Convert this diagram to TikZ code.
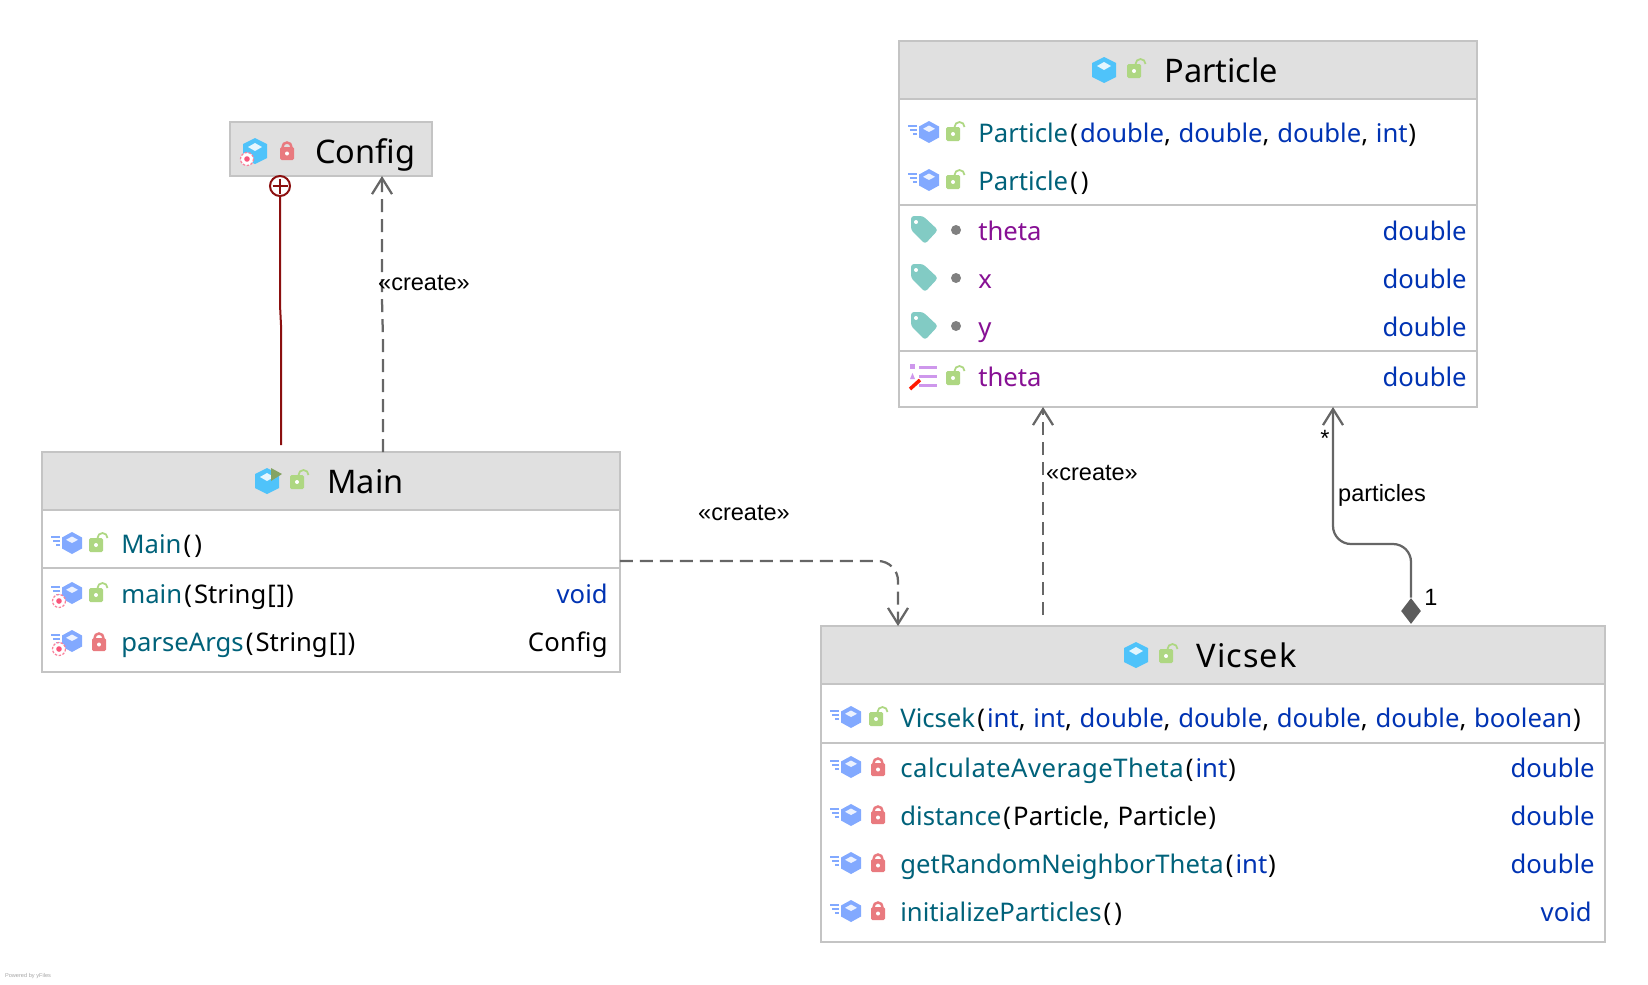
\documentclass[tikz,border=0pt]{standalone}
\usepackage{fontspec}
\setmainfont{Noto Sans}
\newfontfamily\labelfont{Liberation Sans}
\usetikzlibrary{arrows.meta,shapes.geometric}
\definecolor{boxline}{HTML}{C4C4C4}
\definecolor{headfill}{HTML}{E0E0E0}
\definecolor{linkgray}{HTML}{666666}
\definecolor{innerred}{HTML}{8B0F0F}
\definecolor{classblue}{HTML}{4FC3FA}
\definecolor{methodblue}{HTML}{82A9FF}
\definecolor{openlockc}{HTML}{AED782}
\definecolor{closedlockc}{HTML}{E97A7F}
\definecolor{tagc}{HTML}{82CBC4}
\definecolor{lilac}{HTML}{CE97EC}
\definecolor{staticc}{HTML}{F9557A}
\definecolor{methodc}{HTML}{00627A}
\definecolor{keywordc}{HTML}{0033B3}
\definecolor{fieldc}{HTML}{871094}
\newcommand{\mn}[1]{\textcolor{methodc}{#1}}
\newcommand{\kw}[1]{\textcolor{keywordc}{#1}}
\newcommand{\fd}[1]{\textcolor{fieldc}{#1}}
\newcommand{\lp}{\kern1.2pt(\kern1.2pt}
\newcommand{\rp}{\kern0.5pt)\kern0.5pt}
\newcommand{\cm}{,\kern0.6pt}
\newcommand{\strs}{String\kern0.6pt[\kern0.6pt]}
\tikzset{
  boxbody/.style={draw=boxline, line width=0.04cm, fill=white, inner sep=0pt, outer sep=0pt},
  boxhead/.style={draw=boxline, line width=0.04cm, fill=headfill, inner sep=0pt, outer sep=0pt},
  sepline/.style={draw=boxline, line width=0.04cm},
  titlelabel/.style={anchor=base west, inner sep=0pt, font=\fontsize{18.5}{22}\selectfont},
  memberlabel/.style={anchor=base west, inner sep=0pt, font=\fontsize{14.6}{18}\selectfont},
  typelabel/.style={anchor=base east, inner sep=0pt, font=\fontsize{14.6}{18}\selectfont},
  linklabel/.style={inner sep=0pt, font=\labelfont\fontsize{13.4}{16}\selectfont},
  openhead/.style={-{Straight Barb[length=0.32cm,width=0.4cm]}},
  createlink/.style={draw=linkgray, line width=0.045cm, dash pattern=on 0.26cm off 0.14cm, openhead},
  ownlink/.style={draw=linkgray, line width=0.045cm, rounded corners=0.36cm, openhead},
  innerlink/.style={draw=innerred, line width=0.04cm},
  pics/classcube/.style={code={
    \fill[classblue] (0,-13) -- (12,-7) -- (12,7) -- (0,13) -- (-12,7) -- (-12,-7) -- cycle;
    \fill[white!85!classblue] (0,-8) -- (7,-4) -- (0,0) -- (-7,-4) -- cycle;
  }},
  pics/methodcube/.style={code={
    \fill[methodblue] (0,-11) -- (10,-5.5) -- (10,5.5) -- (0,11) -- (-10,5.5) -- (-10,-5.5) -- cycle;
    \fill[white!85!methodblue] (0,-6.5) -- (6,-3.2) -- (0,0) -- (-6,-3.2) -- cycle;
    \draw[methodblue, line width=0.04cm] (-21,-6) -- (-12,-6) (-19,-2) -- (-12,-2) (-16,2) -- (-12,2);
  }},
  pics/staticmark/.style={code={
    \fill[white] (0,0) circle (6.5);
    \draw[staticc!75, line width=0.025cm, dash pattern=on 0.05cm off 0.03cm] (0,0) circle (6.5);
    \fill[staticc] (0,0) circle (2.8);
  }},
  pics/openlock/.style={code={
    \fill[openlockc, rounded corners=0.03cm] (-9,-6) rectangle (5,8);
    \fill[white] (-2,1) circle (2);
    \draw[openlockc, line width=0.035cm] (-0.5,-6) arc[start angle=180, end angle=360, radius=5];
  }},
  pics/closedlock/.style={code={
    \fill[closedlockc, rounded corners=0.03cm] (-7,-3) rectangle (7,10);
    \fill[white] (0,3.5) circle (2);
    \draw[closedlockc, line width=0.05cm] (-4.5,-3) arc[start angle=180, end angle=360, radius=4.5];
  }},
  pics/tagicon/.style={code={
    \fill[tagc, rounded corners=0.06cm] (-13,-14) -- (-1,-14) -- (14,0) -- (1,14) -- (-13,0) -- cycle;
    \fill[white] (-8,-8) circle (2);
  }},
  pics/propicon/.style={code={
    \fill[lilac] (-13,-13) rectangle (-8,-8);
    \fill[lilac] (-13,2) -- (-10.5,-4) -- (-8,2) -- cycle;
    \draw[lilac, line width=0.06cm] (-4,-10) -- (14,-10) (-4,-1) -- (14,-1) (-4,8) -- (14,8);
    \draw[red!80!orange, line width=0.07cm] (-13,12) -- (-3,3);
  }},
}
\begin{document}
\begin{tikzpicture}[x=0.02cm, y=-0.02cm]
\useasboundingbox (0,0) rectangle (1648,984);
% Config
\node[boxhead, minimum width=4.04cm, minimum height=1.08cm] (configbox) at (331,149) {};
\pic at (255,151) {classcube};
\pic at (247,159) {staticmark};
\pic at (287,150) {closedlock};
\node[titlelabel] (configtitle) at (315,163) {Config};
% Particle
\node[boxbody, minimum width=11.56cm, minimum height=7.32cm] (particlebox) at (1188,224) {};
\node[boxhead, minimum width=11.56cm, minimum height=1.16cm] (particlehead) at (1188,70) {};
\pic at (1104,70) {classcube};
\pic at (1136,70) {openlock};
\node[titlelabel] (particletitle) at (1164,82) {Particle};
\pic at (929,132) {methodcube};
\pic at (955,133) {openlock};
\node[memberlabel] (particlectora) at (978,142) {\mn{Particle}\lp\kw{double}\cm{} \kw{double}\cm{} \kw{double}\cm{} \kw{int}\rp};
\pic at (929,180) {methodcube};
\pic at (955,181) {openlock};
\node[memberlabel] (particlectorb) at (978,190) {\mn{Particle}\lp\rp};
\draw[sepline] (particlebox.west |- 0,205) -- (particlebox.east |- 0,205);
\pic at (924,230) {tagicon};
\fill[gray] (956,230) circle (5);
\node[memberlabel] (fieldtheta) at (978,240) {\fd{theta}};
\node[typelabel] (fieldthetatype) at (1467,240) {\kw{double}};
\pic at (924,278) {tagicon};
\fill[gray] (956,278) circle (5);
\node[memberlabel] (fieldx) at (978,288) {\fd{x}};
\node[typelabel] (fieldxtype) at (1467,288) {\kw{double}};
\pic at (924,326) {tagicon};
\fill[gray] (956,326) circle (5);
\node[memberlabel] (fieldy) at (978,336) {\fd{y}};
\node[typelabel] (fieldytype) at (1467,336) {\kw{double}};
\draw[sepline] (particlebox.west |- 0,351) -- (particlebox.east |- 0,351);
\pic at (923,377) {propicon};
\pic at (955,377) {openlock};
\node[memberlabel] (proptheta) at (978,386) {\fd{theta}};
\node[typelabel] (propthetatype) at (1467,386) {\kw{double}};
% Main
\node[boxbody, minimum width=11.56cm, minimum height=4.4cm] (mainbox) at (331,562) {};
\node[boxhead, minimum width=11.56cm, minimum height=1.16cm] (mainhead) at (331,481) {};
\pic at (267,481) {classcube};
\fill[openlockc!70!black!80!openlockc] (271,468) -- (282,474) -- (271,481) -- cycle;
\pic at (299,481) {openlock};
\node[titlelabel] (maintitle) at (327,493) {Main};
\pic at (72,543) {methodcube};
\pic at (98,544) {openlock};
\node[memberlabel] (mainctor) at (121,553) {\mn{Main}\lp\rp};
\draw[sepline] (mainbox.west |- 0,568) -- (mainbox.east |- 0,568);
\pic at (72,593) {methodcube};
\pic at (59,601) {staticmark};
\pic at (98,594) {openlock};
\node[memberlabel] (mainmain) at (121,603) {\mn{main}\lp\strs\rp};
\node[typelabel] (mainmaintype) at (608,603) {\kw{void}};
\pic at (72,641) {methodcube};
\pic at (59,649) {staticmark};
\pic at (99,641) {closedlock};
\node[memberlabel] (mainparse) at (121,651) {\mn{parseArgs}\lp\strs\rp};
\node[typelabel] (mainparsetype) at (608,651) {\addfontfeature{LetterSpace=1}Config};
% Vicsek
\node[boxbody, minimum width=15.68cm, minimum height=6.32cm] (vicsekbox) at (1213,784) {};
\node[boxhead, minimum width=15.68cm, minimum height=1.16cm] (vicsekhead) at (1213,655) {};
\pic at (1136,655) {classcube};
\pic at (1168,655) {openlock};
\node[titlelabel] (vicsektitle) at (1196,667) {\addfontfeature{LetterSpace=3.5}Vicsek};
\pic at (851,717) {methodcube};
\pic at (878,718) {openlock};
\node[memberlabel] (vicsekctor) at (900,727) {\mn{Vicsek}\lp\kw{int}\cm{} \kw{int}\cm{} \kw{double}\cm{} \kw{double}\cm{} \kw{double}\cm{} \kw{double}\cm{} \kw{boolean}\rp};
\draw[sepline] (vicsekbox.west |- 0,743) -- (vicsekbox.east |- 0,743);
\pic at (851,767) {methodcube};
\pic at (878,766) {closedlock};
\node[memberlabel] (vicsekavg) at (900,777) {\mn{\addfontfeature{LetterSpace=2}calculateAverageTheta}\lp\kw{int}\rp};
\node[typelabel] (vicsekavgtype) at (1595,777) {\kw{double}};
\pic at (851,815) {methodcube};
\pic at (878,814) {closedlock};
\node[memberlabel] (vicsekdist) at (900,825) {\mn{distance}\lp Particle\cm{} Particle\rp};
\node[typelabel] (vicsekdisttype) at (1595,825) {\kw{double}};
\pic at (851,863) {methodcube};
\pic at (878,862) {closedlock};
\node[memberlabel] (vicsekrand) at (900,873) {\mn{getRandomNeighborTheta}\lp\kw{int}\rp};
\node[typelabel] (vicsekrandtype) at (1595,873) {\kw{double}};
\pic at (851,911) {methodcube};
\pic at (878,910) {closedlock};
\node[memberlabel] (vicsekinit) at (900,921) {\mn{initializeParticles}\lp\rp};
\node[typelabel] (vicsekinittype) at (1592,921) {\kw{void}};
% links
\node[circle, draw=innerred, line width=0.04cm, fill=white, inner sep=0pt, minimum size=0.4cm] (innermark) at (280,186) {};
\draw[innerlink, shorten >=0.07cm, shorten <=0.07cm] (innermark.north) -- (innermark.south);
\draw[innerlink, shorten >=0.07cm, shorten <=0.07cm] (innermark.west) -- (innermark.east);
\coordinate (innerstart) at (281,445);
\draw[innerlink] (innerstart) -- (281,325) -- (280,305) -- (innermark.south);
\draw[createlink] (mainbox.north -| 383,0) -- (383,340) -- (382,300) -- (configbox.south -| 382,0);
\node[linklabel] (createa) at (424,283) {«create»};
\draw[createlink, rounded corners=0.4cm] (mainbox.east |- 0,561) -- (898,561) -- (vicsekbox.north -| 898,0);
\node[linklabel] (createb) at (744,513) {«create»};
\coordinate (vicsekstart) at (1043,615);
\draw[createlink] (vicsekstart) -- (particlebox.south -| 1043,0);
\node[linklabel] (createc) at (1092,473) {«create»};
\node[diamond, fill=linkgray!90!black, inner sep=0pt, minimum width=0.4cm, minimum height=0.52cm] (owndiamond) at (1411,611) {};
\draw[ownlink] (owndiamond.north) -- (1411,544) -- (1333,544) -- (particlebox.south -| 1333,0);
\node[linklabel] (ownname) at (1382,495) {particles};
\node[linklabel] (ownmany) at (1325,438) {*};
\node[linklabel] (ownone) at (1431,597) {1};
\node[inner sep=0pt, text=black!35, font=\labelfont\fontsize{3.2}{4}\selectfont] (poweredby) at (28,976) {Powered by yFiles};
\end{tikzpicture}
\end{document}
